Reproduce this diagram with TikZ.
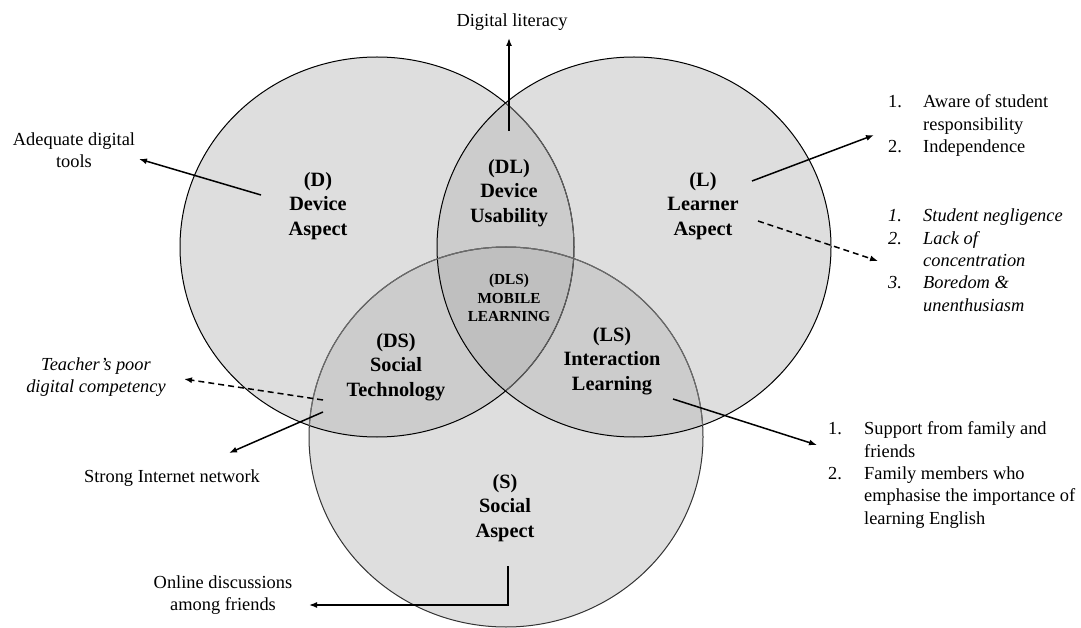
\documentclass[tikz,border=0pt]{standalone}
\usepackage{fontspec}
\setmainfont{Liberation Serif}
\usetikzlibrary{arrows.meta}
\begin{document}
\begin{tikzpicture}[x=1pt,y=-1pt,
  fillA/.style={fill=black!13},
  fillB/.style={fill=black!20},
  fillC/.style={fill=black!25},
  ring/.style={line width=1pt},
  arr/.style={line width=1.5pt,-{Latex[length=8pt,width=6pt]}},
  darr/.style={arr,dash pattern=on 6pt off 4pt},
  lbl/.style={font=\fontsize{20.3}{24.5}\selectfont\bfseries,align=center,inner sep=0pt},
  smalllbl/.style={font=\fontsize{15.3}{18.3}\selectfont\bfseries,align=center,inner sep=0pt},
  txt/.style={font=\fontsize{18.4}{22.3}\selectfont,align=center,inner sep=0pt},
  itxt/.style={font=\fontsize{18.4}{22.3}\selectfont\itshape,align=center,inner sep=0pt},
  lst/.style={font=\fontsize{18.4}{22.3}\selectfont,inner sep=0pt,anchor=north west},
  ilst/.style={font=\fontsize{18.4}{22.3}\selectfont\itshape,inner sep=0pt,anchor=north west}
]
\useasboundingbox (0,0) rectangle (1081,628);
\def\Dc{(377,247) ellipse [x radius=197,y radius=190]}
\def\Lc{(634,247) ellipse [x radius=197,y radius=190]}
\def\Sc{(506,437) ellipse [x radius=197,y radius=190]}
% fills
\fill[fillA] \Dc;
\fill[fillA] \Lc;
\fill[fillA] \Sc;
\begin{scope}\clip \Dc; \fill[fillB] \Lc; \fill[fillB] \Sc; \end{scope}
\begin{scope}\clip \Lc; \fill[fillB] \Sc; \end{scope}
\begin{scope}\clip \Dc; \clip \Lc; \fill[fillC] \Sc; \end{scope}
% outlines
\draw[ring] \Dc;
\begin{scope}\clip \Lc; \draw[ring,draw=gray!75!black] \Dc; \end{scope}
\draw[ring] \Lc;
\draw[ring,draw=black!80] \Sc;
\begin{scope}\clip \Dc; \draw[ring,draw=gray!85!black] \Sc; \end{scope}
\begin{scope}\clip \Lc; \draw[ring,draw=gray!85!black] \Sc; \end{scope}

% region labels
\node[lbl] (D) at (318,206) {(D)\\Device\\Aspect};
\node[lbl] (DL) at (509,193) {(DL)\\Device\\Usability};
\node[smalllbl] (DLS) at (509,298) {(DLS)\\MOBILE\\LEARNING};
\node[lbl] (L) at (703,206) {(L)\\Learner\\Aspect};
\node[lbl] (DS) at (396,367) {(DS)\\Social\\Technology};
\node[lbl] (LS) at (612,361) {(LS)\\Interaction\\Learning};
\node[lbl] (S) at (505,508) {(S)\\Social\\Aspect};

% outside texts
\node[txt,anchor=base] (tDL) at (512,27) {Digital literacy};
\node[txt] (tD) at (74,150) {Adequate digital\\tools};
\node[itxt] (tDS1) at (96,377) {Teacher’s poor\\digital competency};
\node[txt] (tDS2) at (172,478) {Strong Internet network};
\node[txt] (tS) at (223,595) {Online discussions\\among friends};
\node[lst] (tL1) at (888,92) {\begin{tabular}{@{}l@{}l@{}}\makebox[35pt][l]{1.}&Aware of student\\&responsibility\\\makebox[35pt][l]{2.}&Independence\end{tabular}};
\node[ilst] (tL2) at (888,206) {\begin{tabular}{@{}l@{}l@{}}\makebox[35pt][l]{1.}&Student negligence\\\makebox[35pt][l]{2.}&Lack of\\&concentration\\\makebox[35pt][l]{3.}&Boredom \&\\&unenthusiasm\end{tabular}};
\node[lst] (tLS) at (828,419) {\begin{tabular}{@{}l@{}l@{}}\makebox[36pt][l]{1.}&Support from family and\\&friends\\\makebox[36pt][l]{2.}&Family members who\\&emphasise the importance of\\&learning English\end{tabular}};

% arrow end points
\coordinate (aDL1) at (509,131);
\coordinate (aDL2) at (509,38);
\coordinate (aD1) at (261,195);
\coordinate (aD2) at (139,159);
\coordinate (aL1) at (752,181);
\coordinate (aL2) at (874,135);
\coordinate (aL3) at (758,221);
\coordinate (aL4) at (878,261);
\coordinate (aLS1) at (673,399);
\coordinate (aLS2) at (817,445);
\coordinate (aDS1) at (323,400);
\coordinate (aDS2) at (184,379);
\coordinate (aDS3) at (323,412);
\coordinate (aDS4) at (229,453);
\coordinate (aS1) at (508,566);
\coordinate (aS2) at (309,605);

\draw[arr] (aDL1) -- (aDL2);
\draw[arr] (aD1) -- (aD2);
\draw[arr] (aL1) -- (aL2);
\draw[darr] (aL3) -- (aL4);
\draw[arr] (aLS1) -- (aLS2);
\draw[darr] (aDS1) -- (aDS2);
\draw[arr] (aDS3) -- (aDS4);
\draw[arr] (aS1) |- (aS2);
\end{tikzpicture}
\end{document}
